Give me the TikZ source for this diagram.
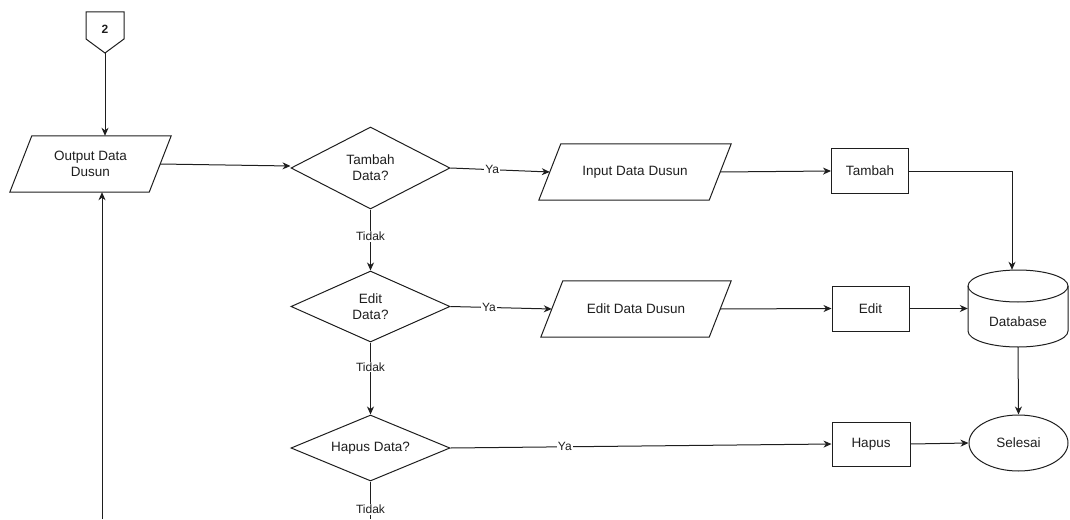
\documentclass[tikz,border=0pt]{standalone}
\usepackage{fontspec}
\setmainfont{Liberation Sans}
\usetikzlibrary{shapes.geometric,arrows.meta}
\definecolor{ln}{RGB}{30,30,30}
\definecolor{tx}{RGB}{30,30,30}
\tikzset{
  base/.style={draw=ln, line width=1pt, text=tx, font=\fontsize{13.5}{16}\selectfont, align=center, inner sep=0pt},
  io/.style={text=tx, font=\fontsize{13.5}{16}\selectfont, align=center, inner sep=0pt, rectangle},
  dec/.style={base, diamond, aspect=2.2},
  proc/.style={base, rectangle},
  term/.style={base, ellipse},
  conn/.style={draw=ln, line width=1pt, -{Stealth[length=8pt,width=7pt,inset=2.5pt]}},
  plain/.style={draw=ln, line width=1pt},
  lbl/.style={fill=white, text=tx, font=\fontsize{12}{14}\selectfont, inner sep=1pt}
}
\newcommand{\paral}[1]{\draw[ln, line width=1pt] ([xshift=11pt]#1.north west) -- ([xshift=11pt]#1.north east) -- ([xshift=-11pt]#1.south east) -- ([xshift=-11pt]#1.south west) -- cycle;}
\begin{document}
\begin{tikzpicture}[x=1pt,y=-1pt]
\useasboundingbox (0,0) rectangle (1070,519);
% off-page connector 2
\draw[ln, line width=1pt, fill=white] (86,12) -- (124,12) -- (124,39) -- (105,53) -- (86,39) -- cycle;
\node[text=tx, font=\bfseries\fontsize{12}{14}\selectfont] (c2) at (105,29) {2};
\coordinate (c2tip) at (105,53);
% nodes
\node[io, minimum width=139pt, minimum height=56pt] (out) at (90.5,164) {Output Data\\Dusun};
\paral{out}
\node[dec, minimum width=159pt, minimum height=82pt] (tambahD) at (370.5,168) {Tambah\\Data?};
\node[dec, minimum width=159pt, minimum height=71pt] (editD) at (370.5,306.5) {Edit\\Data?};
\node[dec, minimum width=159pt, minimum height=66pt] (hapusD) at (370.5,448) {Hapus Data?};
\node[io, minimum width=170pt, minimum height=56pt] (inD) at (635,172) {Input Data Dusun};
\paral{inD}
\node[io, minimum width=168pt, minimum height=56pt] (editDD) at (636,309) {Edit Data Dusun};
\paral{editDD}
\node[proc, minimum width=77pt, minimum height=45pt] (tambahB) at (870,171) {Tambah};
\node[proc, minimum width=77pt, minimum height=45pt] (editB) at (870.5,308.5) {Edit};
\node[proc, minimum width=78pt, minimum height=44pt] (hapusB) at (871,444) {Hapus};
\node[term, minimum width=99pt, minimum height=56pt] (sel) at (1018.5,443) {Selesai};
% database cylinder
\node[minimum width=100pt, minimum height=77pt, inner sep=0pt] (db) at (1018,308.5) {};
\draw[ln, line width=1pt, fill=white] (968,286) -- (968,331) arc[start angle=180, end angle=360, x radius=50, y radius=-16] -- (1068,286) arc[start angle=0, end angle=-180, x radius=50, y radius=16] -- cycle;
\draw[ln, line width=1pt] (968,286) arc[start angle=180, end angle=360, x radius=50, y radius=-16];
\node[text=tx, font=\fontsize{13.5}{16}\selectfont] (dbtext) at (1018,322) {Database};
% connectors
\coordinate (bot1) at (102,519);
\coordinate (bot2) at (370.5,519);
\draw[conn] (c2tip) -- (c2tip |- out.north);
\draw[conn] (bot1) -- (bot1 |- out.south);
\draw[conn] (out.east) -- ([yshift=2pt]tambahD.west);
\draw[conn] (tambahD.east) -- node[lbl, pos=0.42] {Ya} (inD.west);
\draw[conn] (inD.east) -- (tambahB.west);
\draw[conn] (tambahB.east) -| ([xshift=-6pt]db.north);
\draw[conn] (tambahD.south) -- node[lbl, pos=0.44] {Tidak} (editD.north);
\draw[conn] (editD.east) -- node[lbl, pos=0.38] {Ya} (editDD.west);
\draw[conn] (editDD.east) -- (editB.west);
\draw[conn] (editB.east) -- (db.west);
\draw[conn] (editD.south) -- node[lbl, pos=0.34] {Tidak} (hapusD.north);
\draw[conn] (hapusD.east) -- node[lbl, pos=0.30] {Ya} (hapusB.west);
\draw[conn] (hapusB.east) -- (sel.west);
\draw[conn] (db.south) -- (sel.north);
\draw[plain] (hapusD.south) -- node[lbl, pos=0.74] {Tidak} (bot2);
\end{tikzpicture}
\end{document}
